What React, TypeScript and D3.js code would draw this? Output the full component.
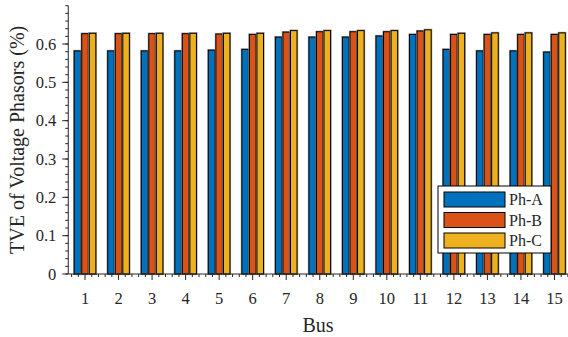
import React from "react";
import * as d3 from "d3";

const buses = [1, 2, 3, 4, 5, 6, 7, 8, 9, 10, 11, 12, 13, 14, 15];
const phA = [0.582, 0.582, 0.582, 0.582, 0.584, 0.586, 0.618, 0.618, 0.618, 0.621, 0.625, 0.586, 0.582, 0.582, 0.579];
const phB = [0.627, 0.627, 0.627, 0.627, 0.626, 0.625, 0.631, 0.632, 0.632, 0.632, 0.634, 0.625, 0.625, 0.625, 0.625];
const phC = [0.628, 0.628, 0.628, 0.628, 0.628, 0.628, 0.635, 0.635, 0.635, 0.635, 0.637, 0.628, 0.629, 0.629, 0.629];
const seriesNames = ["Ph-A", "Ph-B", "Ph-C"];
const seriesColors = ["#0072BD", "#D95319", "#EDB120"];
const yTicks = [0, 0.1, 0.2, 0.3, 0.4, 0.5, 0.6];

export default function App() {
  const W = 568, H = 337;
  const x = d3.scaleLinear().domain([0.5, 15.5]).range([68.25, 571.25]);
  const y = d3.scaleLinear().domain([0, 0.7]).range([274, 5.7]);
  const series = [phA, phB, phC];
  const offsets = [-0.225, 0, 0.225];
  const bw = x(0.195) - x(0);
  const ink = "#262626";
  const font = "'Liberation Serif', 'Times New Roman', serif";
  const yMinor = d3.range(0, 0.7001, 0.02);
  const xMinor = d3.range(0.6, 15.5, 0.2).filter((v) => Math.abs(v - Math.round(v)) > 0.01);

  return (
    <svg width={W} height={H} style={{ position: "absolute", left: 0, top: 0 }}>
      <rect width={W} height={H} fill="#fff" />
      {series.map((vals, si) =>
        vals.map((v, i) => {
          const cx = x(buses[i] + offsets[si]);
          return (
            <g key={`${si}-${i}`}>
              <rect x={cx - bw / 2} y={y(v)} width={bw} height={y(0) - y(v)} fill="none" stroke="#9a9a9a" strokeWidth={2.2} />
              <rect x={cx - bw / 2} y={y(v)} width={bw} height={y(0) - y(v)} fill={seriesColors[si]} stroke="#000" strokeWidth={1} />
            </g>
          );
        })
      )}
      {/* axes */}
      <line x1={x(0.5)} x2={x(0.5)} y1={y(0.7)} y2={y(0)} stroke={ink} strokeWidth={1} />
      <line x1={x(0.5)} x2={x(15.5)} y1={y(0)} y2={y(0)} stroke={ink} strokeWidth={1} />
      {yMinor.map((v) => (
        <line key={`ym${v}`} x1={x(0.5) - 3} x2={x(0.5)} y1={y(v)} y2={y(v)} stroke={ink} strokeWidth={1} />
      ))}
      {yTicks.map((v) => (
        <g key={`yt${v}`}>
          <line x1={x(0.5) - 6} x2={x(0.5)} y1={y(v)} y2={y(v)} stroke={ink} strokeWidth={1} />
          <text x={x(0.5) - 12} y={y(v)} dy="0.35em" textAnchor="end" fontFamily={font} fontSize={16.5} fill={ink}>
            {v === 0 ? "0" : v.toFixed(1)}
          </text>
        </g>
      ))}
      {xMinor.map((v) => (
        <line key={`xm${v}`} x1={x(v)} x2={x(v)} y1={y(0)} y2={y(0) + 3} stroke={ink} strokeWidth={1} />
      ))}
      {buses.map((b) => (
        <g key={`xt${b}`}>
          <line x1={x(b)} x2={x(b)} y1={y(0)} y2={y(0) + 6} stroke={ink} strokeWidth={1} />
          <text x={x(b)} y={304} textAnchor="middle" fontFamily={font} fontSize={16.5} fill={ink}>
            {b}
          </text>
        </g>
      ))}
      <text x={318} y={332} textAnchor="middle" fontFamily={font} fontSize={20} fill={ink}>Bus</text>
      <text transform={`translate(24,${y(0.35)}) rotate(-90)`} textAnchor="middle" fontFamily={font} fontSize={20} fill={ink}>
        TVE of Voltage Phasors (%)
      </text>
      {/* legend */}
      <g>
        <rect x={438} y={186} width={113} height={67} fill="#fff" stroke="#000" strokeWidth={1} />
        {seriesNames.map((n, i) => (
          <g key={n}>
            <rect x={444} y={192 + i * 20.5} width={61} height={15} fill={seriesColors[i]} stroke="#000" strokeWidth={1} />
            <text x={509} y={199.5 + i * 20.5} dy="0.35em" fontFamily={font} fontSize={16} fill={ink}>{n}</text>
          </g>
        ))}
      </g>
    </svg>
  );
}
